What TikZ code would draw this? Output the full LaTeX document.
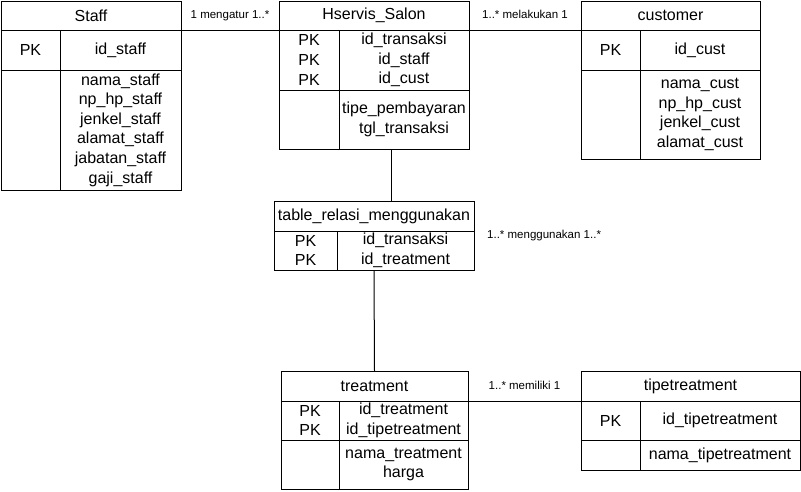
\documentclass[tikz,border=0pt]{standalone}
\usepackage{fontspec}
\setmainfont{Liberation Sans}
\usetikzlibrary{positioning}
\newcommand{\tabfont}{\fontsize{16}{19.6}\selectfont}
\newcommand{\lblfont}{\fontsize{11.5}{13}\selectfont}

\begin{document}
\begin{tikzpicture}[
    x=1pt, y=-1pt,
    node distance=0pt,
    cell/.style={
        draw=black,
        line width=1pt,
        inner sep=0pt,
        outer sep=0pt,
        align=center,
        font=\tabfont
    },
    head/.style={
        cell,
        minimum height=29pt,
        anchor=north west
    },
    conn/.style={
        draw=black,
        line width=1pt
    },
    card/.style={
        font=\lblfont,
        inner sep=0pt,
        text depth=0pt
    }
]
\useasboundingbox (0,0) rectangle (801,491);

% Staff
\node (staff) [head, minimum width=180pt] at (1,1) {Staff};
\node (staffpk) [cell, minimum width=59pt, minimum height=40pt, below right=of staff.south west] {PK};
\node (staffid) [cell, minimum width=121pt, minimum height=40pt, right=of staffpk] {id\_staff};
\node (staffnk) [cell, minimum width=59pt, minimum height=120pt, below=of staffpk] {};
\node (staffat) [cell, minimum width=121pt, minimum height=120pt, right=of staffnk] {nama\_staff\\np\_hp\_staff\\jenkel\_staff\\alamat\_staff\\jabatan\_staff\\gaji\_staff};

% Hservis_Salon
\node (hsalon) [head, minimum width=190pt] at (279,1) {Hservis\_Salon};
\node (hsalonpk) [cell, minimum width=60pt, minimum height=60pt, below right=of hsalon.south west] {PK\\PK\\PK};
\node (hsalonid) [cell, minimum width=130pt, minimum height=60pt, right=of hsalonpk] {id\_transaksi\\id\_staff\\id\_cust};
\node (hsalonnk) [cell, minimum width=60pt, minimum height=59pt, below=of hsalonpk] {};
\node (hsalonat) [cell, minimum width=130pt, minimum height=59pt, right=of hsalonnk] {tipe\_pembayaran\\tgl\_transaksi};

% customer
\node (cust) [head, minimum width=179pt] at (581,1) {customer};
\node (custpk) [cell, minimum width=59pt, minimum height=40pt, below right=of cust.south west] {PK};
\node (custid) [cell, minimum width=120pt, minimum height=40pt, right=of custpk] {id\_cust};
\node (custnk) [cell, minimum width=59pt, minimum height=89pt, below=of custpk] {};
\node (custat) [cell, minimum width=120pt, minimum height=89pt, right=of custnk] {nama\_cust\\np\_hp\_cust\\jenkel\_cust\\alamat\_cust};

% table_relasi_menggunakan
\node (rel) [head, minimum width=200pt, minimum height=30pt] at (274,201) {table\_relasi\_menggunakan};
\node (relpk) [cell, minimum width=63pt, minimum height=39pt, below right=of rel.south west] {PK\\PK};
\node (relid) [cell, minimum width=137pt, minimum height=39pt, right=of relpk] {id\_transaksi\\id\_treatment};

% treatment
\node (trt) [head, minimum width=187pt, minimum height=30pt] at (281,371) {treatment};
\node (trtpk) [cell, minimum width=58pt, minimum height=39pt, below right=of trt.south west] {PK\\PK};
\node (trtid) [cell, minimum width=129pt, minimum height=39pt, right=of trtpk] {id\_treatment\\id\_tipetreatment};
\node (trtnk) [cell, minimum width=58pt, minimum height=49pt, below=of trtpk] {};
\node (trtat) [cell, minimum width=129pt, minimum height=49pt, right=of trtnk] {nama\_treatment\\harga};

% tipetreatment
\node (tipe) [head, minimum width=219pt, minimum height=30pt] at (581,371) {tipetreatment};
\node (tipepk) [cell, minimum width=59pt, minimum height=39pt, below right=of tipe.south west] {PK};
\node (tipeid) [cell, minimum width=160pt, minimum height=39pt, right=of tipepk] {id\_tipetreatment};
\node (tipenk) [cell, minimum width=59pt, minimum height=30pt, below=of tipepk] {};
\node (tipeat) [cell, minimum width=160pt, minimum height=30pt, right=of tipenk] {nama\_tipetreatment};

% Relations
\coordinate (relx) at ([xshift=17pt]rel.north);
\draw [conn] (staff.south east) -- node[card, above=11pt] {1 mengatur 1..*} (hsalon.south west);
\draw [conn] (hsalon.south east) -- node[card, above=11pt] {1..* melakukan 1} (cust.south west);
\draw [conn] (hsalonat.south -| relx) -- (relx);
\draw [conn] (rel.south |- relid.south) -- (trt.north);
\draw [conn] (trt.south east) -- node[card, above=11.5pt] {1..* memiliki 1} (tipe.south west);
\node (relcard) [card, right=13pt of rel.south east, yshift=-3pt] {1..* menggunakan 1..*};

\end{tikzpicture}
\end{document}
